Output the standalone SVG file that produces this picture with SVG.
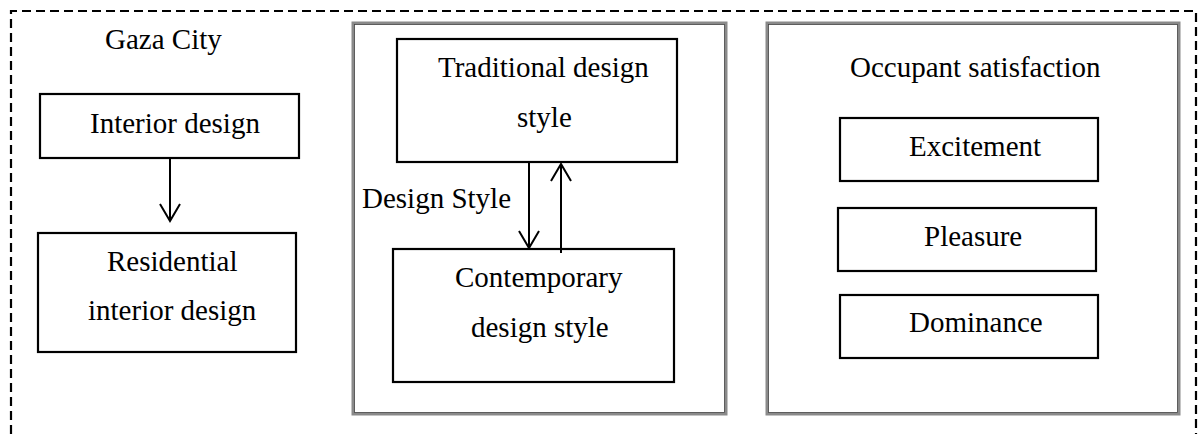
<svg xmlns="http://www.w3.org/2000/svg" width="1198" height="434" viewBox="0 0 1198 434">
<style>
.t{font-family:'Liberation Serif','Times New Roman',Times,serif;font-size:29px;fill:#000}
.box{fill:#fff;stroke:#000;stroke-width:2.2}
.frame{fill:none;stroke:#8a8a8a;stroke-width:3}
.frame2{fill:none;stroke:#444;stroke-width:0.8}
.ln{fill:none;stroke:#000;stroke-width:2}
</style>
<rect width="1198" height="434" fill="#fff"/>
<path d="M11,434 V11 H1196 V434" fill="none" stroke="#000" stroke-width="2.2" stroke-dasharray="9 5"/>
<g class="t" font-family="Liberation Serif, serif">
<g id="gaza-city"><text x="105" y="49">Gaza City</text></g>
<g id="design-style-frame">
<rect class="frame" x="353" y="23" width="373" height="391"/>
<rect class="frame2" x="354.5" y="24.5" width="370" height="388"/>
</g>
<g id="satisfaction-frame">
<rect class="frame" x="767" y="23" width="412" height="391"/>
<rect class="frame2" x="768.5" y="24.5" width="409" height="388"/>
<text x="850" y="77">Occupant satisfaction</text>
</g>
<g id="interior-design"><rect class="box" x="40" y="94" width="259" height="64"/><text x="90" y="133">Interior design</text></g>
<g id="residential"><rect class="box" x="38" y="233" width="258" height="119"/><text x="107" y="271">Residential</text><text x="88" y="320">interior design</text></g>
<g id="traditional"><rect class="box" x="397" y="39" width="280" height="123"/><text x="438" y="77">Traditional design</text><text x="517" y="127">style</text></g>
<g id="contemporary"><rect class="box" x="393" y="249" width="281" height="133"/><text x="455" y="287">Contemporary</text><text x="471" y="337">design style</text></g>
<g id="design-style-label"><text x="362" y="208">Design Style</text></g>
<g id="excitement"><rect class="box" x="840" y="118" width="258" height="63"/><text x="909" y="156">Excitement</text></g>
<g id="pleasure"><rect class="box" x="838" y="208" width="258" height="63"/><text x="924" y="246">Pleasure</text></g>
<g id="dominance"><rect class="box" x="840" y="295" width="258" height="63"/><text x="909" y="332">Dominance</text></g>
</g>
<g id="connectors">
<path class="ln" d="M170,158 V221 M160,204 L170,221 L180,204"/>
<path class="ln" d="M529,162 V248 M519,231 L529,248 L539,231"/>
<path class="ln" d="M561,253 V164 M551,181 L561,164 L571,181"/>
</g>
</svg>
